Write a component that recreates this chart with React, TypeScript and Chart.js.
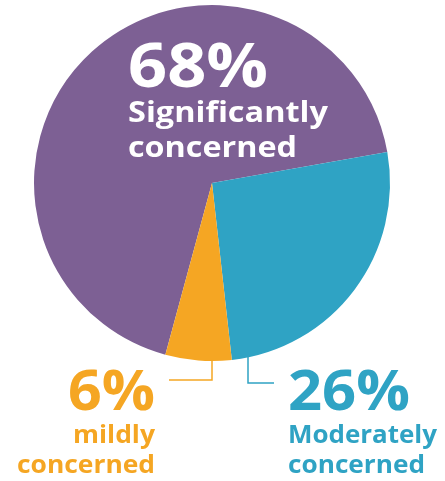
import React, { useEffect, useRef } from "react";
import { Chart, registerables } from "chart.js";

Chart.register(...registerables);

const categories = ["Significantly concerned", "Moderately concerned", "mildly concerned"];
const shares = [68, 26, 6];
const colors = ["#7D6094", "#2FA3C4", "#F5A623"];
const pctLabels = ["68%", "26%", "6%"];

const FONT = "'Open Sans', 'Noto Sans', sans-serif";

function fitText(ctx: any, text: string, x: number, y: number, width: number, align: "left" | "right") {
  const w = ctx.measureText(text).width;
  const s = width / w;
  ctx.save();
  ctx.translate(x, y);
  ctx.scale(s, 1);
  ctx.textAlign = align;
  ctx.fillText(text, 0, 0);
  ctx.restore();
}

const labelPlugin = {
  id: "labels",
  afterDraw(chart: any) {
    const ctx = chart.ctx;
    const arc = chart.getDatasetMeta(0).data[0];
    const cx = arc.x;
    const cy = arc.y;
    const r = arc.outerRadius;
    ctx.save();
    // leader lines
    ctx.lineWidth = 1.5;
    ctx.strokeStyle = colors[2];
    ctx.beginPath();
    ctx.moveTo(cx, cy + r - 2);
    ctx.lineTo(cx, cy + r + 19);
    ctx.lineTo(cx - 43, cy + r + 19);
    ctx.stroke();
    ctx.strokeStyle = colors[1];
    ctx.beginPath();
    ctx.moveTo(cx + 36, cy + r - 4);
    ctx.lineTo(cx + 36, cy + r + 22);
    ctx.lineTo(cx + 62, cy + r + 22);
    ctx.stroke();

    ctx.textBaseline = "alphabetic";
    // 68%
    ctx.fillStyle = "#ffffff";
    ctx.font = `700 61px ${FONT}`;
    fitText(ctx, pctLabels[0], cx - 84, cy - 96, 140, "left");
    ctx.font = `700 28px ${FONT}`;
    fitText(ctx, "Significantly", cx - 84, cy - 61, 200, "left");
    fitText(ctx, "concerned", cx - 84, cy - 26, 169, "left");

    // 26%
    ctx.fillStyle = colors[1];
    ctx.font = `700 55px ${FONT}`;
    fitText(ctx, pctLabels[1], cx + 76, cy + r + 49, 122, "left");
    ctx.font = `700 25px ${FONT}`;
    fitText(ctx, "Moderately", cx + 76, cy + r + 82, 149, "left");
    fitText(ctx, "concerned", cx + 76, cy + r + 112, 137, "left");

    // 6%
    ctx.fillStyle = colors[2];
    ctx.font = `700 55px ${FONT}`;
    fitText(ctx, pctLabels[2], cx - 57, cy + r + 49, 87, "right");
    ctx.font = `700 25px ${FONT}`;
    fitText(ctx, "mildly", cx - 57, cy + r + 82, 82, "right");
    fitText(ctx, "concerned", cx - 57, cy + r + 112, 138, "right");
    ctx.restore();
  },
};

export default function App() {
  const ref = useRef<HTMLCanvasElement>(null);
  useEffect(() => {
    if (!ref.current) return;
    const chart = new Chart(ref.current, {
      type: "pie",
      data: {
        labels: categories,
        datasets: [
          {
            data: shares,
            backgroundColor: colors,
            borderWidth: 0,
          },
        ],
      },
      options: {
        animation: false,
        responsive: true,
        maintainAspectRatio: false,
        rotation: 195.2,
        layout: { padding: { left: 34, right: 55, top: 5, bottom: 120 } },
        plugins: {
          legend: { display: false },
          tooltip: { enabled: false },
        },
      },
      plugins: [labelPlugin],
    });
    return () => chart.destroy();
  }, []);
  return (
    <div style={{ position: "absolute", left: 0, top: 0, width: 445, height: 481 }}>
      <canvas ref={ref} />
    </div>
  );
}
